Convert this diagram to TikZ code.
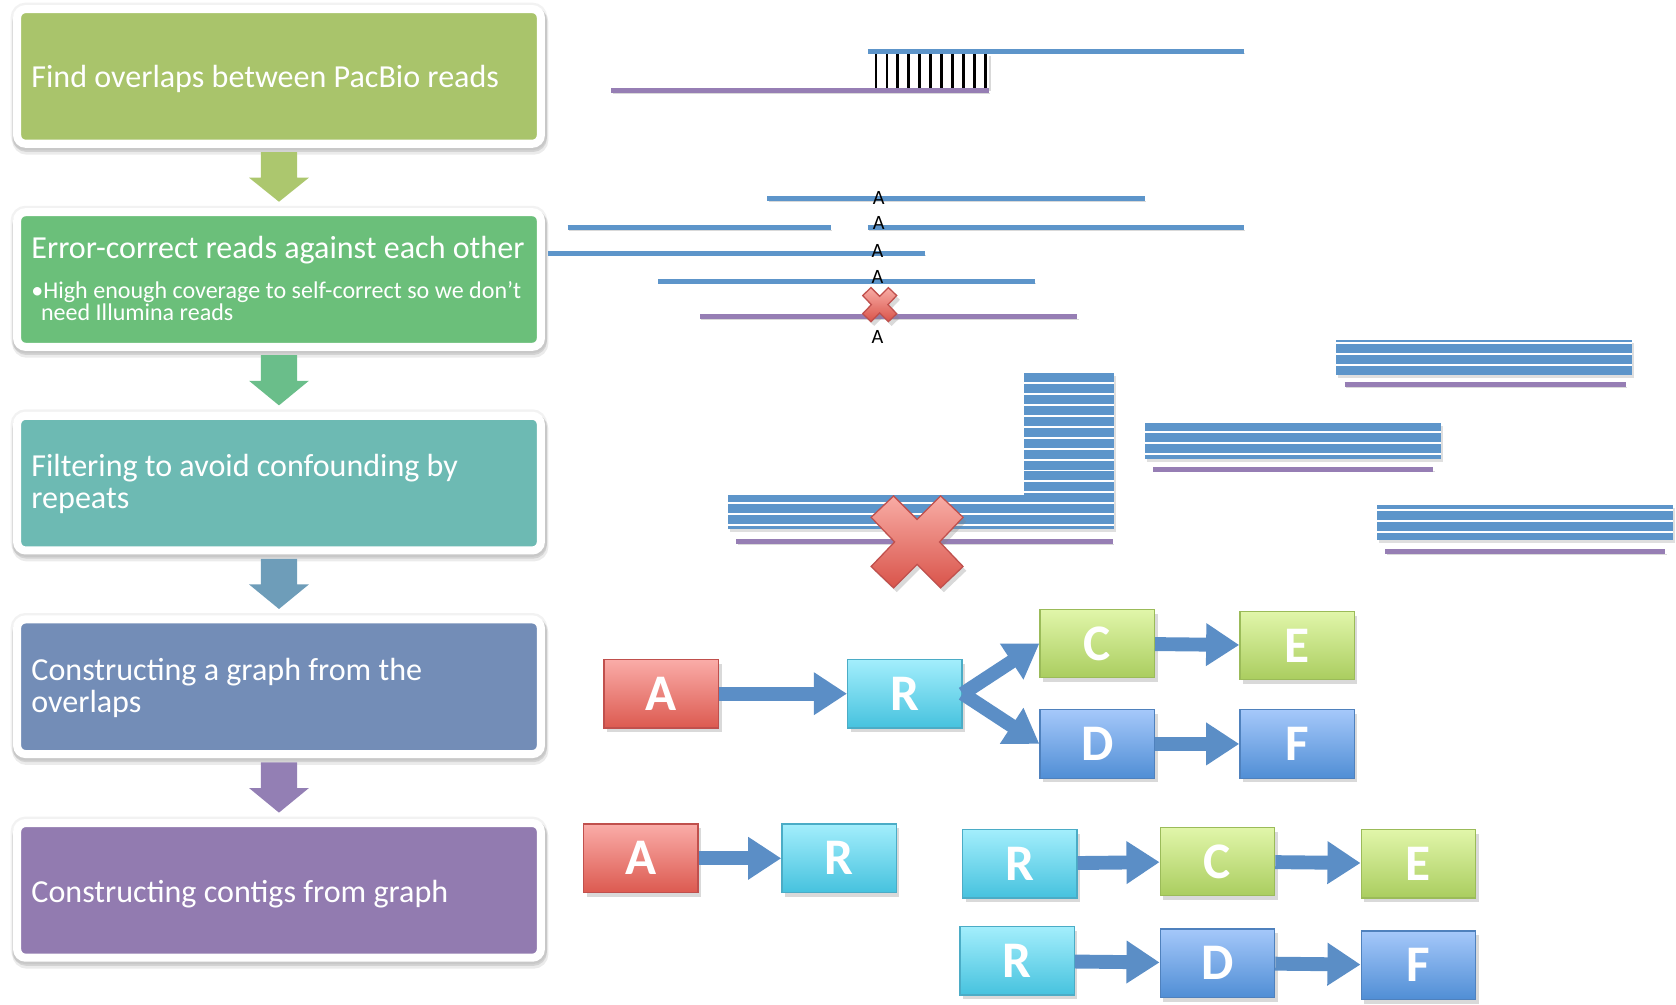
\documentclass[tikz,border=0pt]{standalone}
\usepackage{fontspec}
\setmainfont{Carlito}
\usetikzlibrary{shadows,arrows.meta,calc}

\definecolor{boxA}{RGB}{169,196,107}
\definecolor{boxB}{RGB}{107,191,122}
\definecolor{boxC}{RGB}{109,186,179}
\definecolor{boxD}{RGB}{115,141,183}
\definecolor{boxE}{RGB}{146,123,176}
\definecolor{arrA}{RGB}{172,199,110}
\definecolor{arrB}{RGB}{106,190,138}
\definecolor{arrC}{RGB}{110,157,185}
\definecolor{arrD}{RGB}{147,127,180}
\definecolor{readblue}{RGB}{93,149,202}
\definecolor{readpurple}{RGB}{150,126,180}
\definecolor{arrowblue}{RGB}{91,142,198}
\definecolor{rtop}{RGB}{250,172,168}
\definecolor{rbot}{RGB}{220,90,80}
\definecolor{rborder}{RGB}{192,80,77}
\definecolor{ctop}{RGB}{163,238,252}
\definecolor{cbot}{RGB}{70,194,222}
\definecolor{cborder}{RGB}{75,172,198}
\definecolor{gtop}{RGB}{225,246,170}
\definecolor{gbot}{RGB}{170,205,95}
\definecolor{gborder}{RGB}{155,187,89}
\definecolor{btop}{RGB}{165,200,250}
\definecolor{bbot}{RGB}{80,142,213}
\definecolor{bborder}{RGB}{79,129,189}
\definecolor{xtop}{RGB}{248,172,165}
\definecolor{xbot}{RGB}{217,84,74}
\definecolor{xborder}{RGB}{192,80,77}

\tikzset{
  xmark/.pic={
    \path[top color=xtop, bottom color=xbot, draw=xborder, line width=0.6pt,
          drop shadow={opacity=0.3, shadow xshift=1.5pt, shadow yshift=-2pt}]
      (-43,-23) -- (-22,-43) -- (0,-21) -- (22,-43) -- (43,-23) -- (21,0)
      -- (43,23) -- (22,43) -- (0,21) -- (-22,43) -- (-43,23) -- (-21,0) -- cycle;
  }
}

\begin{document}
\begin{tikzpicture}[x=0.5pt,y=-0.5pt,
  stepbox/.style={draw=white, line width=3.75pt, rounded corners=4pt,
    minimum width=245pt, minimum height=63pt, inner sep=0pt,
    preaction={fill=none, draw=black, opacity=0.05, line width=6pt},
    preaction={fill=none, draw=black, opacity=0.08, line width=5.8pt, transform canvas={xshift=0.6pt, yshift=-2.2pt}},
    preaction={fill=none, draw=black, opacity=0.10, line width=4.8pt, transform canvas={xshift=0.4pt, yshift=-1.4pt}}},
  steptitle/.style={anchor=base west, inner sep=0pt, text=white,
    font=\fontsize{15}{15}\selectfont},
  stepnote/.style={anchor=base west, inner sep=0pt, text=white,
    font=\fontsize{11.25}{11.25}\selectfont},
  readb/.style={draw=readblue, line width=2.25pt,
    preaction={draw=black, opacity=0.15, transform canvas={xshift=0.6pt, yshift=-1.2pt}}},
  readp/.style={draw=readpurple, line width=2.4pt,
    preaction={draw=black, opacity=0.15, transform canvas={xshift=0.6pt, yshift=-1.2pt}}},
  stack/.style={fill=readblue, drop shadow={opacity=0.25, shadow xshift=1pt, shadow yshift=-1.5pt}},
  gap/.style={draw=white, line width=0.9pt},
  hatchline/.style={draw=black, line width=1.3pt},
  baseA/.style={inner sep=0pt, font=\fontsize{9.5}{9.5}\selectfont},
  gbox/.style={minimum width=53.5pt, minimum height=32pt, inner sep=0pt,
    line width=0.6pt, text=white, font=\fontsize{24}{24}\selectfont\bfseries,
    drop shadow={opacity=0.3, shadow xshift=1.5pt, shadow yshift=-2pt}},
  redbox/.style={gbox, top color=rtop, bottom color=rbot, draw=rborder},
  cyanbox/.style={gbox, top color=ctop, bottom color=cbot, draw=cborder},
  greenbox/.style={gbox, top color=gtop, bottom color=gbot, draw=gborder},
  bluebox/.style={gbox, top color=btop, bottom color=bbot, draw=bborder},
  garrow/.style={draw=arrowblue, line width=6.5pt, -{Triangle[length=15.5pt,width=19pt]}}
]
\useasboundingbox (0,0) rectangle (1568,940);

% ---------- left column ----------
\node[stepbox, fill=boxA] (b1) at (261,71.5) {};
\node[stepbox, fill=boxB] (b2) at (261,261.5) {};
\node[stepbox, fill=boxC] (b3) at (261,452) {};
\node[stepbox, fill=boxD] (b4) at (261,642.5) {};
\node[stepbox, fill=boxE] (b5) at (261,833) {};

\node[steptitle] (t1) at ($(b1.center)+(-232,10.5)$) {Find overlaps between PacBio reads};
\node[steptitle] (t2) at ($(b2.center)+(-232,-19.5)$) {Error-correct reads against each other};
\node[stepnote] (t2b) at ($(b2.center)+(-232,17.5)$) {•High enough coverage to self-correct so we don’t};
\node[stepnote] (t2c) at ($(b2.center)+(-223,38.5)$) {need Illumina reads};
\node[steptitle] (t3a) at ($(b3.center)+(-232,-6)$) {Filtering to avoid confounding by};
\node[steptitle] (t3b) at ($(b3.center)+(-232,24)$) {repeats};
\node[steptitle] (t4a) at ($(b4.center)+(-232,-5.5)$) {Constructing a graph from the};
\node[steptitle] (t4b) at ($(b4.center)+(-232,24.5)$) {overlaps};
\node[steptitle] (t5) at ($(b5.center)+(-232,11)$) {Constructing contigs from graph};

\foreach \u/\v/\c in {b1/b2/arrA, b2/b3/arrB, b3/b4/arrC, b4/b5/arrD}{
  \fill[\c] ($(\u.south)+(-17,4)$) -- ($(\u.south)+(17,4)$) -- ($(\u.south)+(17,28)$)
    -- ($(\u.south)+(28,28)$) -- ($(\v.north)+(0,-6)$) -- ($(\u.south)+(-28,28)$)
    -- ($(\u.south)+(-17,28)$) -- cycle;
}

% ---------- overlap ----------
\fill[white, drop shadow={opacity=0.3, shadow xshift=1.2pt, shadow yshift=-1.2pt}] (812,50) rectangle (925,83);
\foreach \k in {0,...,10}{
  \draw[hatchline] ({819.5+10.25*\k},50) -- ({819.5+10.25*\k},83);
}
\draw[readp] (572,85) -- (925,85);
\draw[readb] (812,48) -- (1164,48);

% ---------- error correction ----------
\draw[readb] (718,186) -- (1071,186);
\draw[readb] (531,213) -- (777,213);
\draw[readb] (812,213) -- (1164,213);
\draw[readb] (513,237) -- (865,237);
\draw[readb] (616,263) -- (968,263);
\draw[readp] (655,296) -- (1008,296);
\node[baseA] (a1) at (822,185) {A};
\node[baseA] (a2) at (822,209) {A};
\node[baseA] (a3) at (821,235) {A};
\node[baseA] (a4) at (821,259) {A};
\node[baseA] (a5) at (821,315) {A};
\pic[scale=0.37] at (823,285) {xmark};

% ---------- filtering ----------
\fill[stack] (681,463) rectangle (958,495);
\fill[stack] (958,349) rectangle (1042,495);
\foreach \k in {11,12,13}{
  \draw[gap] (681,{358.6+10.2*\k}) -- (958,{358.6+10.2*\k});
}
\foreach \k in {0,...,13}{
  \draw[gap] (958,{358.6+10.2*\k}) -- (1042,{358.6+10.2*\k});
}
\draw[readp] (689,507) -- (1041,507);
\pic at (858,507) {xmark};

\fill[stack] (1250,318) rectangle (1527,351);
\foreach \d in {3.3,13.6,23.9}{ \draw[gap] (1250,318+\d) -- (1527,318+\d); }
\draw[readp] (1258,360) -- (1521,360);

\fill[stack] (1071,396) rectangle (1348,429);
\foreach \d in {7.9,18.2,28.6}{ \draw[gap] (1071,396+\d) -- (1348,396+\d); }
\draw[readp] (1079,439) -- (1341,439);

\fill[stack] (1288,472) rectangle (1565,505);
\foreach \d in {5.2,15.6,26.1}{ \draw[gap] (1288,472+\d) -- (1565,472+\d); }
\draw[readp] (1296,516) -- (1558,516);

% ---------- graph ----------
\node[redbox] (gA) at (618.5,649) {A};
\node[cyanbox] (gR) at (846.5,649) {R};
\node[greenbox] (gC) at (1026.5,602) {C};
\node[greenbox] (gE) at (1213.5,604) {E};
\node[bluebox] (gD) at (1026.5,696) {D};
\node[bluebox] (gF) at (1213.5,696) {F};
\draw[garrow] (gA) -- (gR);
\draw[garrow] (gR.east) -- (gC.west);
\draw[garrow] (gR.east) -- (gD.west);
\draw[garrow] (gC) -- (gE);
\draw[garrow] (gD) -- (gF);

% ---------- contigs ----------
\node[redbox] (cA) at (599.5,803) {A};
\node[cyanbox] (cR) at (785,803) {R};
\node[cyanbox] (cR2) at (954,808) {R};
\node[greenbox] (cC) at (1139,806) {C};
\node[greenbox] (cE) at (1327,808) {E};
\node[cyanbox] (cR3) at (951.5,899) {R};
\node[bluebox] (cD) at (1139,901) {D};
\node[bluebox] (cF) at (1327,903) {F};
\draw[garrow] (cA) -- (cR);
\draw[garrow] (cR2) -- (cC);
\draw[garrow] (cC) -- (cE);
\draw[garrow] (cR3) -- (cD);
\draw[garrow] (cD) -- (cF);
\end{tikzpicture}
\end{document}
